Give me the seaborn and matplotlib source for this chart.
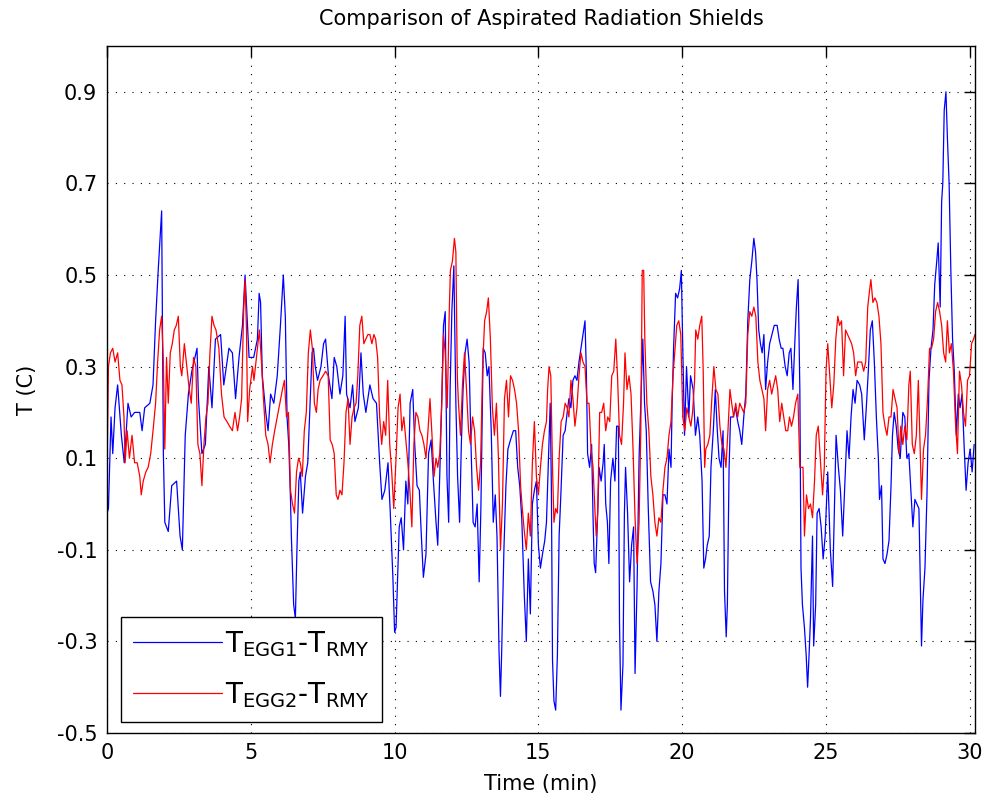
import matplotlib
matplotlib.use("Agg")
import matplotlib.pyplot as plt
import seaborn as sns
import pandas as pd

# values (minutes, deg C)
egg1_time = [
    0.00, 0.05, 0.14, 0.20, 0.28, 0.37, 0.50, 0.60, 0.73, 0.84, 0.96, 1.14, 1.22, 1.31, 1.49, 1.60,
    1.69, 1.78, 1.90, 1.96, 2.01, 2.13, 2.25, 2.42, 2.54, 2.62, 2.72, 2.83, 2.95, 3.13, 3.18, 3.30,
    3.42, 3.54, 3.65, 3.77, 3.95, 4.06, 4.24, 4.36, 4.47, 4.59, 4.71, 4.80, 4.94, 5.10, 5.23, 5.29,
    5.34, 5.40, 5.52, 5.60, 5.69, 5.80, 5.92, 6.03, 6.13, 6.20, 6.26, 6.32, 6.38, 6.41, 6.49, 6.55,
    6.60, 6.67, 6.72, 6.80, 6.90, 6.98, 7.05, 7.13, 7.18, 7.24, 7.32, 7.44, 7.53, 7.60, 7.70, 7.82,
    7.90, 7.99, 8.10, 8.20, 8.28, 8.33, 8.45, 8.54, 8.62, 8.74, 8.83, 8.91, 9.00, 9.14, 9.25, 9.37,
    9.48, 9.56, 9.66, 9.77, 9.85, 9.94, 10.00, 10.05, 10.12, 10.16, 10.23, 10.31, 10.39, 10.46, 10.54, 10.63,
    10.70, 10.78, 10.86, 10.93, 11.00, 11.09, 11.18, 11.27, 11.35, 11.44, 11.50, 11.59, 11.64, 11.70, 11.76, 11.82,
    11.88, 11.93, 11.99, 12.06, 12.13, 12.19, 12.26, 12.32, 12.38, 12.45, 12.52, 12.59, 12.66, 12.73, 12.80, 12.87,
    12.94, 13.00, 13.08, 13.15, 13.22, 13.28, 13.36, 13.43, 13.50, 13.56, 13.63, 13.68, 13.72, 13.80, 13.87, 13.94,
    14.03, 14.13, 14.21, 14.28, 14.35, 14.42, 14.51, 14.58, 14.65, 14.72, 14.79, 14.86, 14.93, 15.00, 15.07, 15.14,
    15.22, 15.28, 15.35, 15.41, 15.45, 15.49, 15.54, 15.60, 15.66, 15.72, 15.78, 15.86, 15.93, 16.00, 16.06, 16.13,
    16.20, 16.27, 16.34, 16.41, 16.48, 16.55, 16.62, 16.67, 16.71, 16.78, 16.85, 16.90, 16.94, 16.99, 17.05, 17.11,
    17.18, 17.25, 17.29, 17.34, 17.40, 17.45, 17.51, 17.59, 17.66, 17.72, 17.78, 17.82, 17.87, 17.94, 17.99, 18.03,
    18.10, 18.17, 18.24, 18.31, 18.36, 18.43, 18.50, 18.56, 18.63, 18.69, 18.75, 18.82, 18.90, 18.98, 19.05, 19.12,
    19.19, 19.26, 19.33, 19.40, 19.47, 19.54, 19.61, 19.65, 19.70, 19.77, 19.84, 19.91, 19.97, 20.01, 20.08, 20.15,
    20.23, 20.29, 20.38, 20.46, 20.54, 20.61, 20.69, 20.75, 20.81, 20.87, 20.94, 21.00, 21.08, 21.15, 21.22, 21.28,
    21.35, 21.42, 21.47, 21.53, 21.57, 21.63, 21.68, 21.77, 21.85, 21.93, 22.00, 22.07, 22.14, 22.21, 22.28, 22.35,
    22.42, 22.49, 22.55, 22.60, 22.66, 22.72, 22.78, 22.84, 22.90, 22.97, 23.04, 23.12, 23.20, 23.30, 23.37, 23.44,
    23.50, 23.58, 23.65, 23.72, 23.78, 23.85, 23.92, 23.97, 24.03, 24.09, 24.13, 24.18, 24.25, 24.31, 24.36, 24.41,
    24.46, 24.53, 24.57, 24.64, 24.69, 24.76, 24.83, 24.90, 24.97, 25.06, 25.15, 25.23, 25.29, 25.35, 25.43, 25.50,
    25.58, 25.66, 25.73, 25.80, 25.87, 25.94, 26.01, 26.08, 26.17, 26.24, 26.33, 26.40, 26.47, 26.54, 26.61, 26.68,
    26.75, 26.82, 26.86, 26.93, 26.98, 27.05, 27.12, 27.19, 27.26, 27.31, 27.37, 27.44, 27.51, 27.58, 27.67, 27.74,
    27.81, 27.88, 27.95, 28.02, 28.09, 28.16, 28.23, 28.29, 28.32, 28.37, 28.44, 28.51, 28.58, 28.65, 28.72, 28.78,
    28.85, 28.90, 28.97, 29.02, 29.06, 29.11, 29.17, 29.22, 29.28, 29.34, 29.40, 29.46, 29.53, 29.60, 29.66, 29.73,
    29.80, 29.87, 29.94, 30.01, 30.08, 30.15,
]
egg1_dT = [
    -0.02, -0.01, 0.19, 0.11, 0.21, 0.26, 0.15, 0.09, 0.22, 0.19, 0.20, 0.20, 0.16, 0.21, 0.22, 0.26,
    0.40, 0.51, 0.64, 0.11, -0.04, -0.06, 0.04, 0.05, -0.07, -0.10, 0.15, 0.24, 0.29, 0.34, 0.23, 0.11,
    0.13, 0.30, 0.21, 0.36, 0.37, 0.26, 0.34, 0.33, 0.23, 0.32, 0.39, 0.50, 0.32, 0.32, 0.36, 0.46,
    0.44, 0.28, 0.20, 0.16, 0.24, 0.22, 0.28, 0.39, 0.50, 0.41, 0.19, 0.13, 0.01, -0.07, -0.22, -0.25,
    -0.11, 0.05, 0.07, -0.02, 0.06, 0.09, 0.20, 0.33, 0.34, 0.30, 0.27, 0.30, 0.35, 0.36, 0.28, 0.23,
    0.32, 0.30, 0.24, 0.28, 0.41, 0.24, 0.21, 0.26, 0.18, 0.21, 0.33, 0.24, 0.20, 0.26, 0.23, 0.22,
    0.09, 0.01, 0.03, 0.09, -0.02, -0.16, -0.28, -0.27, -0.13, -0.05, -0.03, -0.10, 0.05, 0.00, 0.22, 0.25,
    0.13, 0.04, 0.03, -0.07, -0.16, -0.11, 0.11, 0.14, 0.05, -0.04, -0.09, 0.11, 0.23, 0.39, 0.42, 0.06,
    -0.04, 0.25, 0.42, 0.52, 0.22, 0.06, -0.04, 0.13, 0.25, 0.33, 0.36, 0.31, 0.12, -0.04, -0.05, 0.00,
    -0.17, -0.01, 0.34, 0.33, 0.28, 0.30, 0.16, -0.04, 0.02, -0.07, -0.32, -0.42, -0.33, -0.10, 0.04, 0.12,
    0.14, 0.16, 0.16, 0.08, 0.04, -0.03, -0.20, -0.30, -0.12, -0.24, 0.00, 0.03, 0.05, -0.09, -0.14, -0.11,
    -0.08, -0.04, 0.10, 0.22, 0.04, -0.34, -0.43, -0.45, -0.33, -0.07, 0.02, 0.15, 0.16, 0.20, 0.23, 0.21,
    0.27, 0.28, 0.27, 0.31, 0.34, 0.37, 0.40, 0.28, 0.11, 0.08, 0.13, -0.03, -0.13, -0.15, -0.04, 0.08,
    0.05, 0.09, 0.13, 0.00, -0.04, -0.13, 0.05, 0.10, 0.05, 0.17, 0.17, -0.26, -0.45, -0.35, -0.02, 0.08,
    -0.02, -0.17, -0.09, -0.05, -0.37, -0.18, 0.10, 0.22, 0.36, 0.22, 0.16, -0.01, -0.17, -0.19, -0.22, -0.30,
    -0.19, -0.13, 0.02, 0.02, 0.00, 0.12, 0.08, 0.22, 0.34, 0.46, 0.45, 0.47, 0.51, 0.37, 0.15, 0.30,
    0.19, 0.28, 0.25, 0.15, 0.19, 0.15, 0.05, -0.14, -0.12, -0.09, -0.07, 0.08, 0.16, 0.25, 0.16, 0.10,
    0.08, 0.16, -0.19, -0.29, -0.22, 0.08, 0.19, 0.19, 0.21, 0.18, 0.16, 0.13, 0.19, 0.24, 0.40, 0.49,
    0.53, 0.58, 0.55, 0.49, 0.38, 0.35, 0.33, 0.37, 0.25, 0.31, 0.35, 0.37, 0.39, 0.39, 0.36, 0.34,
    0.34, 0.30, 0.28, 0.33, 0.34, 0.25, 0.36, 0.43, 0.49, 0.25, -0.14, -0.22, -0.27, -0.33, -0.40, -0.33,
    -0.25, -0.07, -0.31, -0.22, -0.02, -0.01, -0.05, -0.12, -0.07, 0.07, -0.10, -0.18, -0.01, 0.15, 0.08, 0.03,
    -0.07, 0.05, 0.16, 0.10, 0.19, 0.25, 0.22, 0.27, 0.26, 0.24, 0.14, 0.21, 0.29, 0.38, 0.40, 0.31,
    0.19, 0.10, 0.01, 0.04, -0.12, -0.13, -0.11, -0.08, 0.04, 0.15, 0.20, 0.17, 0.12, 0.10, 0.20, 0.19,
    0.10, 0.11, 0.03, -0.05, 0.01, 0.00, -0.01, -0.21, -0.31, -0.21, -0.14, 0.02, 0.27, 0.34, 0.38, 0.48,
    0.53, 0.57, 0.43, 0.66, 0.70, 0.86, 0.90, 0.80, 0.70, 0.51, 0.36, 0.29, 0.15, 0.24, 0.21, 0.24,
    0.13, 0.03, 0.09, 0.12, 0.07, 0.13,
]

egg2_time = [
    0.00, 0.05, 0.12, 0.20, 0.28, 0.37, 0.45, 0.52, 0.59, 0.63, 0.70, 0.78, 0.87, 0.96, 1.05, 1.14,
    1.19, 1.26, 1.35, 1.43, 1.52, 1.60, 1.69, 1.76, 1.83, 1.90, 1.96, 2.01, 2.07, 2.13, 2.20, 2.27,
    2.34, 2.41, 2.48, 2.55, 2.60, 2.69, 2.79, 2.86, 2.93, 3.01, 3.09, 3.16, 3.23, 3.30, 3.37, 3.44,
    3.51, 3.58, 3.65, 3.72, 3.79, 3.89, 3.98, 4.07, 4.17, 4.26, 4.36, 4.45, 4.54, 4.61, 4.68, 4.75,
    4.80, 4.85, 4.89, 4.96, 5.06, 5.11, 5.23, 5.30, 5.37, 5.44, 5.52, 5.60, 5.67, 5.75, 5.83, 5.92,
    6.01, 6.10, 6.17, 6.24, 6.31, 6.38, 6.45, 6.52, 6.59, 6.66, 6.72, 6.79, 6.86, 6.93, 7.00, 7.07,
    7.14, 7.21, 7.28, 7.34, 7.41, 7.51, 7.60, 7.69, 7.76, 7.83, 7.90, 7.97, 8.03, 8.10, 8.17, 8.24,
    8.31, 8.38, 8.45, 8.52, 8.59, 8.66, 8.72, 8.79, 8.86, 8.93, 9.00, 9.07, 9.14, 9.21, 9.28, 9.34,
    9.41, 9.48, 9.55, 9.62, 9.69, 9.76, 9.83, 9.90, 9.97, 10.05, 10.12, 10.19, 10.25, 10.32, 10.39, 10.46,
    10.53, 10.60, 10.67, 10.74, 10.81, 10.88, 10.95, 11.02, 11.09, 11.16, 11.23, 11.30, 11.37, 11.44, 11.50, 11.57,
    11.64, 11.70, 11.76, 11.83, 11.90, 11.94, 12.01, 12.08, 12.13, 12.18, 12.22, 12.29, 12.36, 12.43, 12.50, 12.57,
    12.64, 12.71, 12.78, 12.85, 12.92, 12.99, 13.06, 13.13, 13.20, 13.26, 13.33, 13.40, 13.47, 13.54, 13.61, 13.68,
    13.75, 13.82, 13.89, 13.96, 14.03, 14.10, 14.17, 14.24, 14.31, 14.38, 14.44, 14.51, 14.58, 14.65, 14.72, 14.79,
    14.86, 14.93, 15.00, 15.07, 15.14, 15.21, 15.28, 15.32, 15.37, 15.43, 15.49, 15.54, 15.60, 15.66, 15.72, 15.79,
    15.86, 15.93, 16.00, 16.06, 16.13, 16.20, 16.27, 16.34, 16.41, 16.48, 16.55, 16.62, 16.69, 16.76, 16.83, 16.90,
    16.97, 17.01, 17.06, 17.13, 17.20, 17.27, 17.34, 17.41, 17.48, 17.55, 17.62, 17.69, 17.75, 17.82, 17.89, 17.96,
    18.01, 18.08, 18.15, 18.22, 18.29, 18.36, 18.43, 18.50, 18.56, 18.61, 18.66, 18.70, 18.77, 18.84, 18.91, 18.98,
    19.05, 19.12, 19.19, 19.26, 19.33, 19.40, 19.47, 19.54, 19.61, 19.68, 19.75, 19.81, 19.88, 19.95, 20.02, 20.09,
    20.16, 20.23, 20.30, 20.36, 20.43, 20.47, 20.54, 20.61, 20.68, 20.73, 20.78, 20.82, 20.89, 20.96, 21.03, 21.10,
    21.17, 21.24, 21.31, 21.38, 21.45, 21.52, 21.59, 21.66, 21.72, 21.79, 21.86, 21.93, 22.00, 22.07, 22.14, 22.21,
    22.28, 22.35, 22.42, 22.49, 22.56, 22.63, 22.70, 22.77, 22.84, 22.90, 22.97, 23.04, 23.11, 23.18, 23.25, 23.32,
    23.39, 23.46, 23.53, 23.60, 23.67, 23.73, 23.80, 23.87, 23.94, 24.02, 24.09, 24.13, 24.20, 24.25, 24.32, 24.39,
    24.46, 24.53, 24.60, 24.66, 24.73, 24.80, 24.88, 24.94, 25.00, 25.06, 25.13, 25.20, 25.27, 25.34, 25.41, 25.47,
    25.54, 25.61, 25.68, 25.75, 25.82, 25.89, 25.96, 26.03, 26.10, 26.17, 26.24, 26.31, 26.38, 26.45, 26.52, 26.56,
    26.63, 26.70, 26.77, 26.84, 26.91, 26.98, 27.05, 27.12, 27.19, 27.26, 27.33, 27.40, 27.47, 27.54, 27.60, 27.67,
    27.74, 27.81, 27.88, 27.93, 28.00, 28.07, 28.14, 28.21, 28.28, 28.32, 28.39, 28.46, 28.53, 28.60, 28.67, 28.74,
    28.81, 28.88, 28.95, 29.02, 29.09, 29.16, 29.22, 29.29, 29.36, 29.43, 29.50, 29.57, 29.64, 29.71, 29.78, 29.85,
    29.92, 29.99, 30.06, 30.13, 30.18,
]
egg2_dT = [
    0.07, 0.30, 0.33, 0.34, 0.31, 0.33, 0.27, 0.26, 0.19, 0.09, 0.16, 0.10, 0.15, 0.09, 0.09, 0.06,
    0.02, 0.05, 0.07, 0.08, 0.11, 0.16, 0.22, 0.31, 0.38, 0.41, 0.31, 0.12, 0.32, 0.22, 0.33, 0.35,
    0.38, 0.39, 0.41, 0.30, 0.28, 0.35, 0.29, 0.25, 0.22, 0.32, 0.30, 0.13, 0.11, 0.04, 0.13, 0.19,
    0.22, 0.33, 0.41, 0.39, 0.38, 0.34, 0.24, 0.19, 0.18, 0.17, 0.16, 0.20, 0.16, 0.19, 0.23, 0.42,
    0.49, 0.38, 0.18, 0.25, 0.30, 0.27, 0.34, 0.38, 0.31, 0.23, 0.15, 0.13, 0.09, 0.13, 0.16, 0.19,
    0.22, 0.25, 0.27, 0.19, 0.20, 0.03, 0.00, -0.02, 0.07, 0.10, 0.09, 0.06, 0.16, 0.20, 0.33, 0.38,
    0.34, 0.22, 0.20, 0.25, 0.27, 0.28, 0.29, 0.28, 0.14, 0.13, 0.11, 0.02, 0.01, 0.03, 0.02, 0.09,
    0.20, 0.23, 0.13, 0.19, 0.21, 0.22, 0.28, 0.39, 0.41, 0.35, 0.36, 0.37, 0.37, 0.35, 0.37, 0.36,
    0.32, 0.19, 0.13, 0.18, 0.15, 0.27, 0.13, 0.07, -0.01, 0.10, 0.21, 0.24, 0.16, 0.19, 0.14, 0.09,
    0.03, -0.05, 0.13, 0.20, 0.19, 0.16, 0.15, 0.13, 0.10, 0.16, 0.23, 0.15, 0.06, 0.10, 0.08, 0.11,
    0.22, 0.37, 0.33, 0.21, 0.42, 0.51, 0.53, 0.58, 0.55, 0.28, 0.22, 0.15, 0.26, 0.33, 0.25, 0.16,
    0.13, 0.19, 0.16, 0.08, 0.03, 0.09, 0.30, 0.40, 0.42, 0.45, 0.36, 0.21, 0.15, 0.22, 0.10, -0.10,
    0.00, 0.23, 0.27, 0.19, 0.28, 0.27, 0.25, 0.22, 0.16, 0.04, -0.01, -0.06, -0.10, -0.02, -0.07, 0.09,
    0.18, 0.06, 0.02, 0.08, 0.13, 0.16, 0.18, 0.25, 0.30, 0.28, 0.08, -0.04, -0.01, -0.02, 0.10, 0.18,
    0.19, 0.22, 0.21, 0.19, 0.27, 0.23, 0.17, 0.21, 0.28, 0.33, 0.31, 0.30, 0.22, 0.22, 0.12, 0.08,
    -0.02, -0.07, -0.02, 0.20, 0.20, 0.22, 0.16, 0.19, 0.18, 0.28, 0.29, 0.36, 0.28, 0.15, 0.13, 0.22,
    0.33, 0.25, 0.28, 0.24, 0.12, -0.03, -0.13, -0.04, 0.16, 0.51, 0.51, 0.36, 0.22, 0.16, 0.06, 0.02,
    -0.04, -0.07, -0.03, -0.04, 0.03, 0.08, 0.10, 0.15, 0.18, 0.28, 0.34, 0.39, 0.40, 0.37, 0.19, 0.16,
    0.21, 0.19, 0.17, 0.20, 0.27, 0.38, 0.36, 0.39, 0.41, 0.29, 0.08, 0.12, 0.13, 0.15, 0.23, 0.30,
    0.25, 0.24, 0.17, 0.13, 0.12, 0.08, 0.16, 0.25, 0.22, 0.19, 0.22, 0.19, 0.22, 0.21, 0.20, 0.22,
    0.37, 0.42, 0.41, 0.43, 0.41, 0.31, 0.27, 0.25, 0.23, 0.16, 0.25, 0.27, 0.24, 0.26, 0.28, 0.25,
    0.18, 0.22, 0.19, 0.16, 0.16, 0.19, 0.17, 0.19, 0.22, 0.24, 0.08, 0.08, 0.08, -0.07, 0.02, -0.01,
    0.00, -0.03, 0.05, 0.15, 0.17, 0.10, 0.02, 0.08, 0.29, 0.35, 0.28, 0.21, 0.26, 0.36, 0.41, 0.39,
    0.40, 0.28, 0.38, 0.37, 0.36, 0.35, 0.33, 0.28, 0.31, 0.31, 0.31, 0.29, 0.31, 0.43, 0.47, 0.49,
    0.44, 0.45, 0.44, 0.41, 0.35, 0.20, 0.17, 0.15, 0.19, 0.19, 0.25, 0.23, 0.21, 0.11, 0.17, 0.13,
    0.17, 0.14, 0.26, 0.29, 0.13, 0.11, 0.15, 0.27, 0.11, 0.01, 0.12, 0.15, 0.23, 0.34, 0.34, 0.36,
    0.42, 0.44, 0.42, 0.39, 0.33, 0.31, 0.40, 0.33, 0.35, 0.29, 0.18, 0.11, 0.29, 0.26, 0.20, 0.17,
    0.27, 0.28, 0.35, 0.36, 0.37,
]

label_egg1 = r"T$_{\mathregular{EGG1}}$-T$_{\mathregular{RMY}}$"
label_egg2 = r"T$_{\mathregular{EGG2}}$-T$_{\mathregular{RMY}}$"
x_ticks = [0, 5, 10, 15, 20, 25, 30]
y_ticks = [-0.5, -0.3, -0.1, 0.1, 0.3, 0.5, 0.7, 0.9]

assert len(egg1_time) == len(egg1_dT), (len(egg1_time), len(egg1_dT))
assert len(egg2_time) == len(egg2_dT), (len(egg2_time), len(egg2_dT))

df = pd.concat([
    pd.DataFrame({"time": egg1_time, "dT": egg1_dT, "pair": label_egg1}),
    pd.DataFrame({"time": egg2_time, "dT": egg2_dT, "pair": label_egg2}),
], ignore_index=True)

sns.set_style("white")
plt.rcParams["font.family"] = ["DejaVu Sans"]
plt.rcParams["mathtext.fontset"] = "dejavusans"
plt.rcParams["text.color"] = "black"
plt.rcParams["axes.labelcolor"] = "black"

fig = plt.figure(figsize=(9.84, 8.08), dpi=100)
fig.patch.set_facecolor("white")
ax = fig.add_axes([107 / 984, 75 / 808, 868 / 984, 687 / 808])

sns.lineplot(data=df, x="time", y="dT", hue="pair",
             palette={label_egg1: "#0000ff", label_egg2: "#ff0000"},
             estimator=None, sort=False, linewidth=0.9, ax=ax)

ax.set_xlim(0, 30.18)
ax.set_ylim(-0.5, 1.0)
ax.set_xticks(x_ticks)
ax.set_yticks(y_ticks)
ax.set_yticklabels([f"{v:.1f}" for v in y_ticks])
ax.grid(True, color="black", linestyle=(0, (1, 6.5)), linewidth=0.8)
ax.tick_params(direction="in", length=8, width=1, labelsize=15, pad=7,
               top=True, right=True, colors="black")
for s in ax.spines.values():
    s.set_visible(True)
    s.set_color("black")
    s.set_linewidth(1.0)

ax.set_title("Comparison of Aspirated Radiation Shields", fontsize=15, pad=15, color="black")
ax.set_xlabel("Time (min)", fontsize=15, labelpad=8)
ax.set_ylabel("T (C)", fontsize=15, labelpad=14)

handles, labels = ax.get_legend_handles_labels()
leg = ax.legend(handles, labels, loc="lower left", bbox_to_anchor=(0.016, 0.016),
                borderaxespad=0, fontsize=20, handlelength=3.2, handletextpad=0.1,
                fancybox=False, framealpha=1, edgecolor="black",
                borderpad=0.45, labelspacing=0.75)
leg.get_frame().set_linewidth(1.0)

fig.savefig("out.png", dpi=100, facecolor="white")
